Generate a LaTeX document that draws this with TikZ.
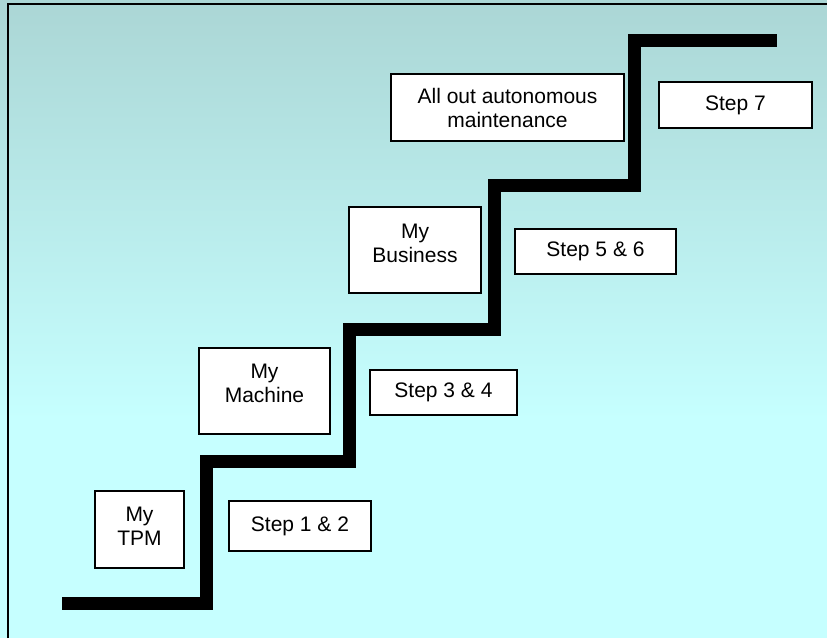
\documentclass[tikz,border=0pt]{standalone}
\usepackage{fontspec}
\setmainfont{Liberation Sans}
\usetikzlibrary{positioning}
\definecolor{bg_top}{HTML}{ABD6D5}
\definecolor{bg_bottom}{HTML}{C6FFFF}
\colorlet{bgtop}{bg_top}
\colorlet{bgbottom}{bg_bottom}
\tikzset{
  stage/.style={draw=black,line width=1.4pt,fill=white,align=center,inner sep=0pt,font=\fontsize{21}{24}\selectfont},
  stepbox/.style={stage},
  stair/.style={line width=13pt,line join=miter,line cap=butt,black},
  frame/.style={line width=2pt,black},
}

\begin{document}
\begin{tikzpicture}[x=1pt,y=-1pt]
	    \useasboundingbox (0,0) rectangle (827,638);
	    \shade[top color=bgtop,bottom color=bgbottom] (0,0) rectangle (827,420);
	    \fill[bgbottom] (0,419) rectangle (827,638);
	    \draw[frame] (7.5,638) -- (7.5,3.5) -- (827,3.5);
	    % the staircase
	    \draw[stair] (62,603.5) -- (206.5,603.5) -- (206.5,461) -- (349.5,461) -- (349.5,329.5)
	      -- (494.5,329.5) -- (494.5,185.5) -- (634,185.5) -- (634,40) -- (777,40);
	    \node[stage,minimum width=89pt,minimum height=77pt,text depth=7pt] (TPM) at (139.5,529.5) {My\\TPM};
	    \node[stepbox,minimum width=142pt,minimum height=50pt] (STEP12) at (300,526) {Step 1 \& 2};
	    \node[stage,minimum width=131pt,minimum height=86pt,text depth=16pt] (MACHINE) at (264.5,391) {My\\Machine};
	    \node[stepbox,minimum width=147pt,minimum height=45pt] (STEP34) at (443.5,392.5) {Step 3 \& 4};
	    \node[stage,minimum width=132pt,minimum height=86pt,text depth=14pt] (BUSINESS) at (415,250) {My\\Business};
	    \node[stepbox,minimum width=161pt,minimum height=45pt] (STEP56) at (595.5,251.5) {Step 5 \& 6};
	    \node[stage,minimum width=233pt,minimum height=67pt] (ALLOUT) at (507.5,107.5) {All out autonomous\\maintenance};
	    \node[stepbox,minimum width=153pt,minimum height=46pt] (STEP7) at (735.5,105) {Step 7};
	\end{tikzpicture}
\end{document}
